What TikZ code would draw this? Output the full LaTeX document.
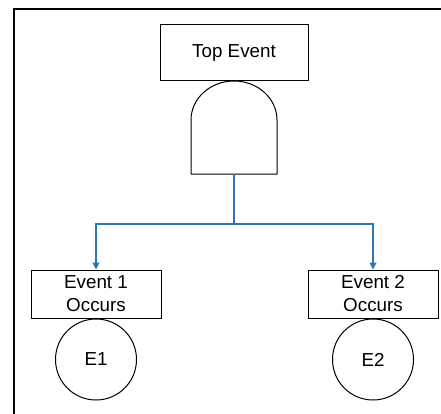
\documentclass[tikz,border=0pt]{standalone}
\usepackage{fontspec}
\setmainfont{Liberation Sans}
\usetikzlibrary{arrows.meta, positioning, calc}

\definecolor{flowblue}{RGB}{46,117,182}

\tikzset{
    eventbox/.style = {draw, rectangle, align=center, inner sep=0pt},
    basicevent/.style = {draw, circle, inner sep=0pt, minimum size=81pt},
    flow/.style = {flowblue, line width=1.2pt},
    flowarrow/.style = {flow, -{Triangle[width=7pt, length=7pt]}},
}

\begin{document}
\begin{tikzpicture}[x = 1pt, y = -1pt, line width = 1pt, font = \fontsize{18.8}{23}\selectfont]

    \useasboundingbox (0,0) rectangle (441,414);
    \draw[line width = 2.2pt] (14,414) -- (14,9) -- (441,9);

    \node[eventbox, minimum width = 148pt, minimum height = 56pt] (top) at (234,53) {Top Event};

    % and gate
    \def\gateW{43}
    \def\gateH{54}
    \coordinate (gate) at (234,174);
    \draw[line join = round] (gate) -- ++(-\gateW,0) -- ++(0,-\gateH)
        arc (180:0:\gateW pt and 39pt) -- ++(0,\gateH) -- cycle;

    \node[eventbox, minimum width = 130pt, minimum height = 48pt] (ev1) at (96,294) {Event 1\\Occurs};
    \node[eventbox, minimum width = 130pt, minimum height = 48pt] (ev2) at (373,294) {Event 2\\Occurs};

    \node[basicevent, below = 0pt of ev1] (e1) {E1};
    \node[basicevent, below = 0pt of ev2] (e2) {E2};

    \coordinate (split) at (234,224);
    \draw[flow] (gate) -- (split);
    \draw[flowarrow] (split) -| (ev1.north);
    \draw[flowarrow] (split) -| (ev2.north);

\end{tikzpicture}
\end{document}
